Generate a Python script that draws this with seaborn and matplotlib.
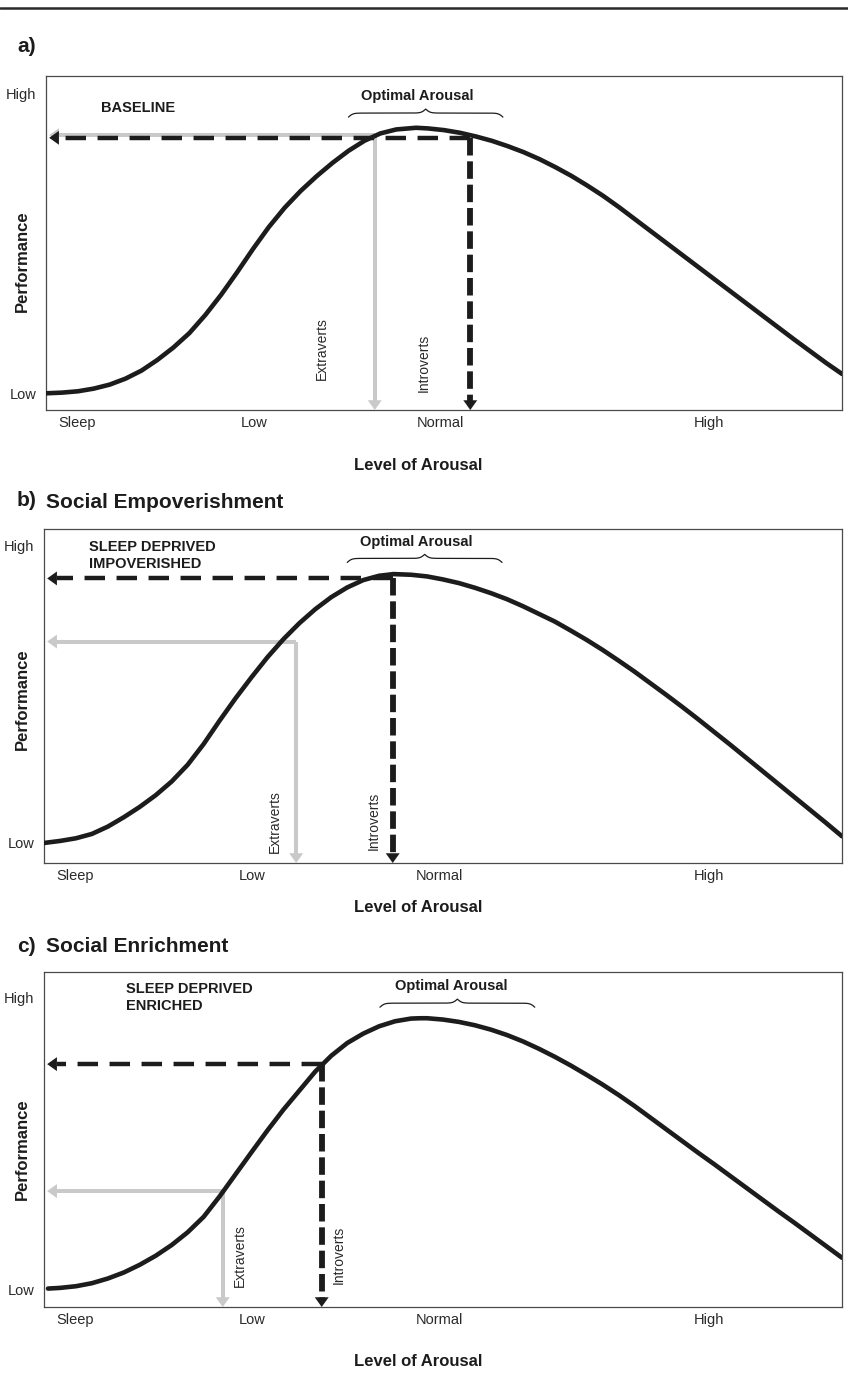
import numpy as np
import pandas as pd
import matplotlib
matplotlib.use("Agg")
import matplotlib.pyplot as plt
import seaborn as sns
from matplotlib.lines import Line2D

# ---------------------------------------------------------------------------
# Inverted-U curves: level of arousal (0-100) vs. performance (0-100)
# ---------------------------------------------------------------------------
arousal_a = [0, 2, 4, 6, 8, 10, 12, 14, 16, 18, 20, 22, 24, 26, 28, 30, 32, 34,
             36, 38, 40, 42, 44, 46.5, 48, 50, 52, 54, 56, 58, 60, 62, 64, 66,
             68, 70, 72, 74, 76, 78, 80, 82, 84, 86, 88, 90, 92, 94, 96, 98, 100]
performance_a = [5.0, 5.2, 5.6, 6.4, 7.6, 9.4, 11.8, 15.0, 18.7, 23.0, 28.4, 34.5,
                 41.2, 48.2, 54.8, 60.6, 65.6, 70.0, 74.0, 77.6, 80.6, 82.8, 84.0,
                 84.5, 84.3, 83.8, 83.0, 81.9, 80.6, 79.0, 77.2, 75.1, 72.7, 70.1,
                 67.2, 64.1, 60.7, 57.1, 53.5, 49.9, 46.3, 42.7, 39.1, 35.5, 31.9,
                 28.3, 24.7, 21.1, 17.6, 14.1, 10.8]

arousal_b = [0, 2, 4, 6, 8, 10, 12, 14, 16, 18, 20, 22, 24, 26, 28, 30, 32, 34,
             36, 38, 40, 42, 43.8, 46, 48, 50, 52, 54, 56, 58, 60, 62, 64, 66,
             68, 70, 72, 74, 76, 78, 80, 82, 84, 86, 88, 90, 92, 94, 96, 98, 100]
performance_b = [6.0, 6.6, 7.4, 8.7, 10.9, 13.7, 16.8, 20.3, 24.4, 29.4, 35.6, 42.6,
                 49.3, 55.6, 61.6, 67.0, 71.8, 76.0, 79.6, 82.5, 84.7, 86.0, 86.5,
                 86.3, 85.8, 84.9, 83.8, 82.4, 80.8, 79.0, 76.9, 74.6, 72.3, 69.6,
                 66.8, 63.8, 60.6, 57.3, 53.8, 50.3, 46.7, 43.0, 39.2, 35.4, 31.5,
                 27.6, 23.7, 19.8, 15.9, 12.0, 8.0]

arousal_c = [0.5, 2, 4, 6, 8, 10, 12, 14, 16, 18, 20, 22, 24, 26, 28, 30, 32, 34,
             36, 38, 40, 42, 44, 46, 47.2, 48, 50, 52, 54, 56, 58, 60, 62, 64,
             66, 68, 70, 72, 74, 76, 78, 80, 82, 84, 86, 88, 90, 92, 94, 96, 98, 100]
performance_c = [5.5, 5.7, 6.2, 7.1, 8.5, 10.3, 12.6, 15.3, 18.5, 22.3, 26.9, 33.0,
                 39.6, 46.2, 52.7, 58.9, 64.6, 70.3, 75.0, 78.8, 81.6, 83.8, 85.3,
                 86.1, 86.2, 86.2, 85.8, 85.1, 84.1, 82.8, 81.2, 79.3, 77.1, 74.7,
                 72.1, 69.3, 66.4, 63.3, 60.0, 56.5, 53.0, 49.5, 46.0, 42.6, 39.1,
                 35.6, 32.1, 28.6, 25.2, 21.7, 18.2, 14.7]

# Operating points (arousal, performance) for each personality group
extraverts_a = (41.3, 82.3)
introverts_a = (53.3, 81.5)
extraverts_b = (31.6, 66.3)
introverts_b = (43.7, 85.2)
extraverts_c = (22.4, 34.6)
introverts_c = (34.8, 72.5)

x_tick_labels = ["Sleep", "Low", "Normal", "High"]
x_tick_values = [3.9, 26.1, 49.5, 83.3]
y_tick_labels = ["Low", "High"]
y_tick_values_a = [5.0, 94.7]
y_tick_values_b = [6.0, 95.0]
y_tick_values_c = [5.2, 92.4]

panel_tags = ["a)", "b)", "c)"]
panel_titles = ["", "Social Empoverishment", "Social Enrichment"]
condition_labels = ["BASELINE", "SLEEP DEPRIVED\nIMPOVERISHED", "SLEEP DEPRIVED\nENRICHED"]

# ---------------------------------------------------------------------------
sns.set_theme(style="white")
SANS = ["Liberation Sans Narrow", "Liberation Sans", "DejaVu Sans"]
plt.rcParams["font.family"] = SANS

W, H = 848, 1373
fig = plt.figure(figsize=(W / 100, H / 100), dpi=100)

INK = "#1c1c1c"
GREY = "#c9c9c9"


def px_rect(left, top, right, bottom):
    return [left / W, 1 - bottom / H, (right - left) / W, (bottom - top) / H]


def draw_brace(ax, x0, x1, y, amp):
    """Curly brace with its cusp pointing up."""
    u = np.linspace(0, 0.5, 151)
    beta = 70.0
    half = 1 / (1 + np.exp(-beta * (u - u[0]))) + 1 / (1 + np.exp(-beta * (u - u[-1])))
    shape = np.concatenate([half, half[-2::-1]]) - 1.0
    xs = np.linspace(x0, x1, shape.size)
    ax.plot(xs, y + amp * shape, color=INK, lw=0.9, solid_capstyle="round",
            clip_on=False, zorder=5)


def arrow_head(ax, tip, tail, color):
    ax.annotate("", xy=tip, xytext=tail,
                arrowprops=dict(arrowstyle="-|>,head_length=0.7,head_width=0.5",
                                fc=color, ec=color, lw=0.01, shrinkA=0, shrinkB=0,
                                mutation_scale=10),
                annotation_clip=False, zorder=3)


def guide(ax, point, color, dashed, z):
    """Reading lines from an operating point to both axes, ending in arrow heads."""
    x, y = point
    bb = ax.get_window_extent()
    ux, uy = 100 / bb.width, 100 / bb.height
    head = 9.5
    x_tip = 0.4
    if dashed:
        hkw = dict(dashes=(4.6, 2.6), lw=3.2)
        vkw = dict(dashes=(3.0, 1.0), lw=4.2)
    else:
        hkw = dict(lw=2.9)
        vkw = dict(lw=2.9)
    ax.plot([x, x_tip + head * ux], [y, y], color=color, solid_capstyle="butt",
            dash_capstyle="butt", zorder=z, **hkw)
    ax.plot([x, x], [y, head * uy], color=color, solid_capstyle="butt",
            dash_capstyle="butt", zorder=z, **vkw)
    arrow_head(ax, (x_tip, y), (x_tip + head * ux, y), color)
    arrow_head(ax, (x, 0), (x, head * uy), color)


panels = [
    dict(rect=px_rect(46, 76, 842, 410), x=arousal_a, y=performance_a,
         ext=extraverts_a, intro=introverts_a, yt=y_tick_values_a,
         opt=(46.7, 94.0), brace=(38.0, 57.4, 88.9), cond=(6.9, 90.4),
         ext_lbl=(34.6, 18.3), int_lbl=(47.5, 14.1),
         tag_y=47, title_y=47, perf_y=261, xlab_y=466),
    dict(rect=px_rect(44, 529, 842, 863), x=arousal_b, y=performance_b,
         ext=extraverts_b, intro=introverts_b, yt=y_tick_values_b,
         opt=(46.7, 96.2), brace=(38.0, 57.4, 91.2), cond=(5.6, 92.0),
         ext_lbl=(28.9, 12.5), int_lbl=(41.3, 12.5),
         tag_y=501, title_y=502, perf_y=699, xlab_y=908),
    dict(rect=px_rect(44, 972, 842, 1307), x=arousal_c, y=performance_c,
         ext=extraverts_c, intro=introverts_c, yt=y_tick_values_c,
         opt=(51.0, 95.7), brace=(42.1, 61.5, 90.7), cond=(10.3, 92.3),
         ext_lbl=(24.5, 15.5), int_lbl=(36.9, 15.5),
         tag_y=946, title_y=947, perf_y=1149, xlab_y=1362),
]

for i, p in enumerate(panels):
    ax = fig.add_axes(p["rect"])
    df = pd.DataFrame({"arousal": p["x"], "performance": p["y"]})
    sns.lineplot(data=df, x="arousal", y="performance", ax=ax, color=INK, lw=3.3,
                 sort=False, zorder=4)
    ax.lines[-1].set_solid_joinstyle("round")
    ax.set_xlim(0, 100)
    ax.set_ylim(0, 100)
    ax.set_xlabel("")
    ax.set_ylabel("")
    ax.set_xticks(x_tick_values)
    ax.set_xticklabels(x_tick_labels)
    ax.set_yticks(p["yt"])
    ax.set_yticklabels(y_tick_labels)
    ax.tick_params(axis="both", length=0, labelsize=10.5, colors="#2a2a2a")
    ax.tick_params(axis="x", pad=4)
    ax.tick_params(axis="y", pad=7)
    for s in ax.spines.values():
        s.set_color("#4a4a4a")
        s.set_linewidth(0.9)

    guide(ax, p["ext"], GREY, dashed=False, z=2)
    guide(ax, p["intro"], INK, dashed=True, z=2.5)

    ax.text(*p["opt"], "Optimal Arousal", ha="center", va="center",
            fontsize=10.5, fontweight="bold", color=INK)
    draw_brace(ax, *p["brace"], amp=2.4)
    ax.text(*p["cond"], condition_labels[i], ha="left", va="center",
            fontsize=10.5, fontweight="bold", color=INK, linespacing=1.25)
    ax.text(*p["ext_lbl"], "Extraverts", rotation=90, ha="center", va="center",
            fontsize=10, color="#2a2a2a")
    ax.text(*p["int_lbl"], "Introverts", rotation=90, ha="center", va="center",
            fontsize=10, color="#2a2a2a")

    fig.text(17 / W, 1 - p["tag_y"] / H, panel_tags[i], ha="left", va="center",
             fontsize=15, fontweight="bold", color=INK)
    if panel_titles[i]:
        fig.text(46 / W, 1 - p["title_y"] / H, panel_titles[i], ha="left",
                 va="center", fontsize=15, fontweight="bold", color=INK)
    fig.text(22 / W, 1 - p["perf_y"] / H, "Performance", rotation=90, ha="center",
             va="center", fontsize=12, fontweight="bold", color=INK)
    fig.text(418 / W, 1 - p["xlab_y"] / H, "Level of Arousal", ha="center",
             va="center", fontsize=12, fontweight="bold", color=INK)

# rule across the top of the figure
fig.add_artist(Line2D([0, 1], [1 - 7.5 / H, 1 - 7.5 / H], color="#2a2a2a", lw=1.8,
                      transform=fig.transFigure))

fig.savefig("out.png", dpi=100, facecolor="white")
